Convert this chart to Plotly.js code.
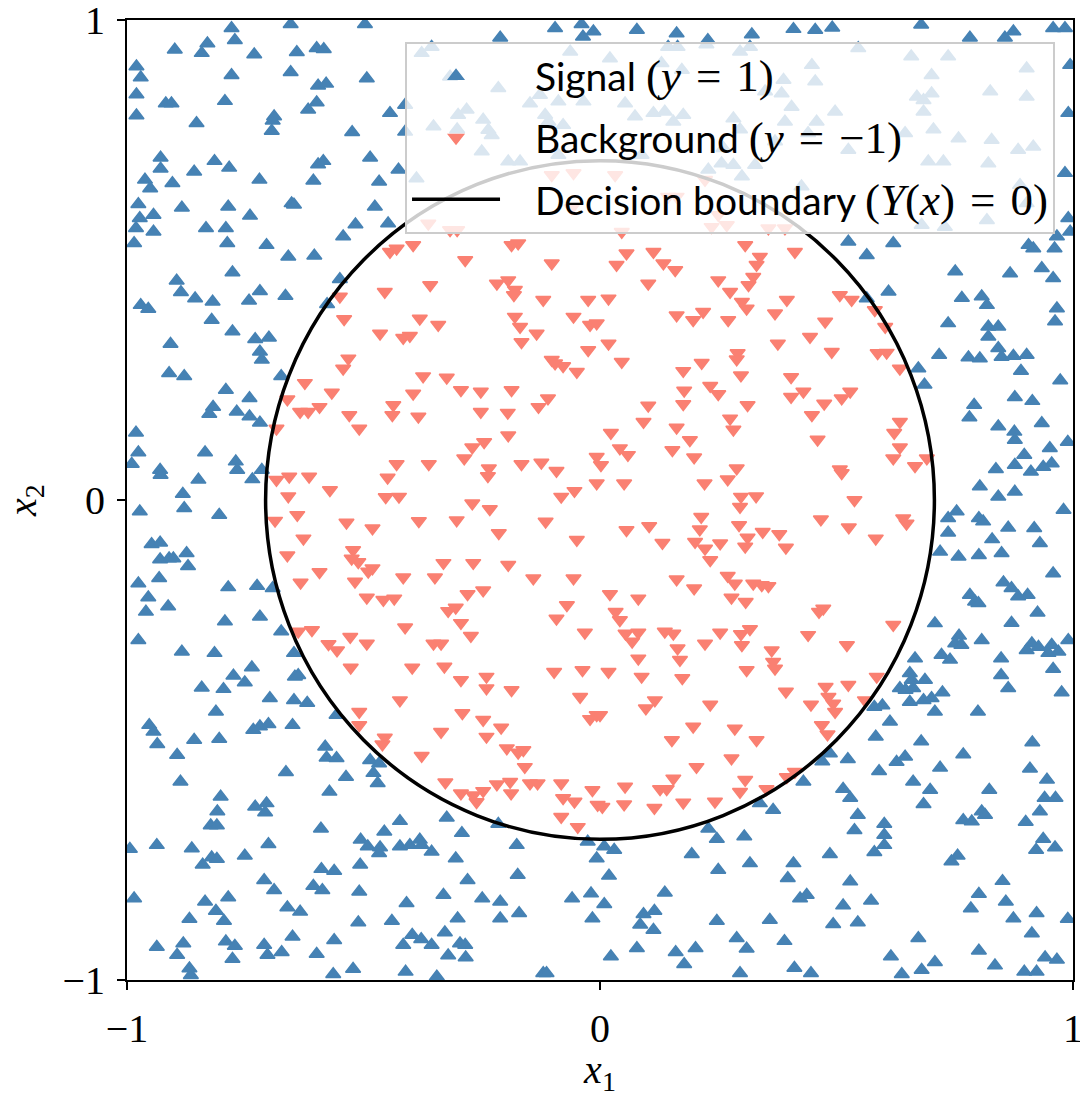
<!DOCTYPE html>
<html>
<head>
<meta charset="utf-8">
<script src="https://cdn.plot.ly/plotly-3.0.1.min.js"></script>
<style>html,body{margin:0;padding:0;background:#fff;}#chart{width:1080px;height:1097px;}</style>
</head>
<body>
<div id="chart"></div>
<script>
// ---- data, pairs of [x1, x2] ----
const signalPoints = [
[-0.779,0.983],[-0.772,0.958],[-0.830,0.951],[-0.842,0.931],[-0.899,0.938],[-0.731,0.928],[-0.641,0.933],[-0.599,0.941],[-0.584,0.939],[-0.654,0.991],[-0.980,0.903],[-0.971,0.880],[-0.980,0.845],[-0.980,0.801],[-0.918,0.826],[-0.906,0.826],[-0.793,0.831],[-0.779,0.885],[-0.654,0.891],[-0.596,0.863],[-0.579,0.867],[-0.599,0.828],[-0.617,0.813],[-0.689,0.799],[-0.692,0.790],[-0.694,0.769],[-0.853,0.785],[-0.524,0.766],[-0.929,0.713],[-0.929,0.690],[-0.962,0.667],[-0.951,0.649],[-0.904,0.660],[-0.858,0.684],[-0.815,0.706],[-0.784,0.692],[-0.720,0.667],[-0.596,0.699],[-0.585,0.706],[-0.606,0.665],[-0.652,0.618],[-0.647,0.615],[-0.976,0.616],[-0.973,0.587],[-0.981,0.566],[-0.944,0.594],[-0.944,0.559],[-0.985,0.535],[-0.884,0.609],[-0.833,0.566],[-0.786,0.611],[-0.791,0.566],[-0.788,0.535],[-0.740,0.592],[-0.705,0.531],[-0.659,0.507],[-0.604,0.509],[-0.543,0.549],[-0.517,0.574],[-0.777,0.474],[-0.895,0.457],[-0.886,0.433],[-0.856,0.420],[-0.819,0.413],[-0.821,0.375],[-0.971,0.406],[-0.955,0.398],[-0.742,0.415],[-0.719,0.435],[-0.665,0.425],[-0.550,0.460],[-0.577,0.408],[-0.777,0.351],[-0.729,0.335],[-0.700,0.338],
[-0.497,0.991],[-0.493,0.878],[-0.486,0.713],[-0.467,0.663],[-0.476,0.611],[-0.095,0.983],[-0.039,0.991],[-0.014,0.976],[-0.211,0.963],[-0.036,0.965],
[-0.356,0.944],[-0.377,0.931],[-0.317,0.882],[-0.412,0.823],[-0.444,0.806],[-0.412,0.767],[-0.352,0.778],[-0.300,0.802],[-0.282,0.813],[-0.302,0.772],[-0.247,0.792],[-0.236,0.771],[-0.229,0.760],[-0.250,0.726],[-0.426,0.688],[-0.388,0.670],[-0.215,0.858],[-0.194,0.705],[-0.169,0.705],[-0.127,0.844],[-0.088,0.830],[-0.148,0.826],[-0.035,0.830],[-0.063,0.934],[-0.116,0.802],[-0.109,0.788],[-0.078,0.781],[-0.088,0.719],[-0.448,0.576],
[0.078,0.979],[0.162,0.972],[0.228,0.958],[0.321,0.970],[0.409,0.981],[0.455,0.979],[0.491,0.984],
[0.144,0.944],[0.164,0.944],[0.225,0.949],[0.296,0.934],[0.317,0.944],[0.021,0.920],[0.130,0.910],[0.173,0.896],[0.388,0.875],[0.448,0.906],[0.455,0.872],[0.349,0.851],[0.384,0.847],[0.053,0.826],[0.074,0.799],[0.113,0.806],[0.137,0.809],[0.155,0.788],[0.176,0.802],[0.282,0.795],[0.296,0.772],[0.405,0.819],[0.391,0.788],[0.458,0.788],[0.497,0.809],[0.440,0.764],[0.261,0.733],[0.257,0.701],[0.282,0.698],[0.328,0.698],[0.300,0.674],[0.229,0.688],[0.088,0.719],[0.426,0.653],[0.370,0.747],
[0.679,0.990],[0.782,0.963],[0.856,0.963],[0.874,0.976],[0.958,0.983],[0.983,0.983],[0.994,0.906],[0.990,0.806],[0.983,0.681],[0.990,0.587],[0.994,0.559],[0.525,0.538],[0.620,0.535],[0.564,0.510],[0.906,0.531],[0.916,0.524],[0.966,0.549],[0.961,0.524],[0.751,0.476],[0.867,0.472],[0.934,0.483],[0.958,0.462],[0.610,0.434],[0.765,0.421],[0.807,0.424],[0.818,0.406],[0.736,0.368],[0.821,0.361],[0.842,0.361],[0.821,0.340],[0.966,0.399],[0.962,0.372],[0.564,0.420],
[0.546,0.941],[0.658,0.924],[0.736,0.924],[0.701,0.885],[0.902,0.899],[0.670,0.840],[0.684,0.833],[0.701,0.847],[0.684,0.809],[0.825,0.851],[0.902,0.840],[0.645,0.764],[0.705,0.772],[0.758,0.753],[0.828,0.750],[0.884,0.729],[0.916,0.736],[0.525,0.729],[0.694,0.705],[0.726,0.705],[0.821,0.701],[0.888,0.656],[0.902,0.618],[0.818,0.583],[0.680,0.573],[0.729,0.569],
[-0.908,0.325],[-0.719,0.309],[-0.715,0.292],[-0.911,0.264],[-0.879,0.258],[-0.791,0.229],[-0.741,0.212],[-0.818,0.194],[-0.826,0.179],[-0.768,0.184],[-0.741,0.174],[-0.719,0.161],[-0.674,0.258],[-0.981,0.140],[-0.976,0.099],[-0.990,0.075],[-0.835,0.099],[-0.930,0.0625],[-0.929,0.052],[-0.770,0.080],[-0.767,0.0625],[-0.715,0.0625],[-0.735,0.043],[-0.849,0.042],[-0.882,0.0125],[-0.879,-0.017],[-0.973,-0.024],[-0.805,-0.031],[-0.948,-0.092],[-0.930,-0.089],[-0.930,-0.124],[-0.911,-0.122],[-0.902,-0.122],[-0.874,-0.111],[-0.871,-0.138],[-0.976,-0.174],[-0.932,-0.163],[-0.955,-0.203],[-0.960,-0.233],[-0.913,-0.222],[-0.786,-0.182],[-0.725,-0.179],[-0.692,-0.184],[-0.793,-0.253],[-0.719,-0.243],[-0.674,-0.274],[-0.976,-0.292],[-0.884,-0.316],[-0.815,-0.319],[-0.647,-0.319],
[0.717,0.302],[0.673,0.274],[0.686,0.240],[0.779,0.297],[0.803,0.295],[0.842,0.316],[0.849,0.298],[0.874,0.300],[0.902,0.302],[0.890,0.269],[0.973,0.249],[0.877,0.214],[0.914,0.206],[0.791,0.198],[0.781,0.172],[0.842,0.153],[0.876,0.142],[0.877,0.125],[0.934,0.160],[0.989,0.121],[0.951,0.108],[0.955,0.076],[0.937,0.069],[0.897,0.094],[0.877,0.073],[0.911,0.059],[0.837,0.064],[0.803,0.028],[0.842,0.007],[0.877,0.017],[0.980,-0.021],[0.736,-0.038],[0.754,-0.024],[0.736,-0.068],[0.801,-0.038],[0.810,-0.045],[0.863,-0.058],[0.918,-0.059],[0.829,-0.082],[0.930,-0.090],[0.719,-0.108],[0.758,-0.118],[0.801,-0.115],[0.849,-0.111],[0.958,-0.153],[0.853,-0.172],[0.870,-0.184],[0.884,-0.201],[0.904,-0.198],[0.782,-0.198],[0.793,-0.212],[0.800,-0.215],[0.925,-0.235],[0.870,-0.256],[0.708,-0.257],[0.759,-0.283],[0.751,-0.299],[0.764,-0.302],[0.807,-0.292],[0.722,-0.323],[0.740,-0.333],[0.848,-0.330],[0.913,-0.299],[0.902,-0.313],[0.927,-0.306],[0.948,-0.319],[0.955,-0.302],[0.969,-0.316],[0.990,-0.292],[0.666,-0.330],
[-0.736,-0.349],[-0.775,-0.366],[-0.751,-0.380],[-0.842,-0.391],[-0.796,-0.394],[-0.645,-0.368],[-0.638,-0.365],[-0.698,-0.413],[-0.647,-0.417],[-0.619,-0.423],[-0.812,-0.441],[-0.953,-0.469],[-0.944,-0.483],[-0.936,-0.509],[-0.858,-0.500],[-0.805,-0.498],[-0.733,-0.479],[-0.719,-0.472],[-0.701,-0.467],[-0.650,-0.469],[-0.557,-0.448],[-0.894,-0.531],[-0.887,-0.587],[-0.581,-0.514],[-0.578,-0.537],[-0.557,-0.538],[-0.537,-0.577],[-0.664,-0.567],[-0.572,-0.608],[-0.802,-0.618],[-0.809,-0.649],[-0.823,-0.678],[-0.810,-0.678],[-0.729,-0.639],[-0.705,-0.632],[-0.708,-0.651],[-0.590,-0.685],[-0.994,-0.727],[-0.937,-0.719],[-0.863,-0.726],[-0.821,-0.745],[-0.810,-0.748],[-0.840,-0.760],[-0.751,-0.741],[-0.701,-0.717],[-0.506,-0.708],[-0.507,-0.760],[-0.509,-0.816],[-0.511,-0.880],[-0.589,-0.769],[-0.562,-0.773],[-0.606,-0.804],[-0.587,-0.813],[-0.710,-0.792],[-0.689,-0.813],[-0.985,-0.830],[-0.835,-0.837],[-0.786,-0.828],[-0.812,-0.856],[-0.795,-0.877],[-0.868,-0.873],[-0.661,-0.849],[-0.634,-0.858],[-0.650,-0.910],[-0.937,-0.931],[-0.881,-0.924],[-0.894,-0.948],[-0.791,-0.920],[-0.772,-0.929],[-0.777,-0.956],[-0.710,-0.927],[-0.703,-0.948],[-0.673,-0.942],[-0.599,-0.946],[-0.562,-0.917],[-0.868,-0.976],[-0.865,-0.990],[-0.564,-0.988],[-0.522,-0.977],
[-0.486,-0.542],[-0.467,-0.549],[-0.479,-0.569],[-0.470,-0.590],[-0.324,-0.662],[-0.215,-0.675],[-0.423,-0.669],[-0.456,-0.691],[-0.491,-0.722],[-0.465,-0.724],[-0.467,-0.736],[-0.423,-0.722],[-0.402,-0.719],[-0.381,-0.708],[-0.377,-0.719],[-0.356,-0.733],[-0.292,-0.694],[-0.305,-0.747],[-0.176,-0.719],[-0.174,-0.781],[-0.280,-0.792],[-0.331,-0.823],[-0.249,-0.830],[-0.211,-0.837],[-0.409,-0.840],[-0.440,-0.877],[-0.301,-0.872],[-0.211,-0.872],[-0.171,-0.861],[-0.059,-0.830],[-0.019,-0.820],[-0.016,-0.872],[-0.007,-0.747],[-0.026,-0.712],[-0.328,-0.901],[-0.397,-0.906],[-0.378,-0.915],[-0.416,-0.927],[-0.356,-0.927],[-0.296,-0.924],[-0.285,-0.927],[-0.321,-0.949],[-0.284,-0.953],[-0.411,-0.983],[-0.345,-0.993],[-0.120,-0.986],[-0.113,-0.986],
[0.486,-0.528],[0.470,-0.545],[0.430,-0.587],[0.338,-0.632],[0.366,-0.646],[0.229,-0.685],[0.247,-0.706],[0.305,-0.701],[0.009,-0.722],[0.030,-0.729],[0.194,-0.738],[0.317,-0.757],[0.250,-0.771],[0.409,-0.757],[0.397,-0.788],[0.486,-0.738],[0.019,-0.783],[0.137,-0.818],[0.423,-0.830],[0.437,-0.823],[0.009,-0.842],[0.092,-0.863],[0.115,-0.856],[0.085,-0.885],[0.113,-0.896],[0.247,-0.877],[0.359,-0.875],[0.493,-0.884],[0.289,-0.913],[0.310,-0.935],[0.390,-0.919],[0.078,-0.934],[0.023,-0.951],[0.160,-0.942],[0.178,-0.967],[0.202,-0.934],[0.411,-0.975],[0.446,-0.986],[0.296,-0.986],
[0.655,-0.361],[0.659,-0.375],[0.687,-0.375],[0.634,-0.392],[0.646,-0.396],[0.662,-0.392],[0.655,-0.421],[0.684,-0.417],[0.701,-0.413],[0.708,-0.441],[0.724,-0.401],[0.580,-0.431],[0.597,-0.428],[0.613,-0.462],[0.848,-0.365],[0.863,-0.392],[0.958,-0.352],[0.976,-0.401],[0.799,-0.441],[0.583,-0.493],[0.679,-0.503],[0.914,-0.505],[0.524,-0.540],[0.590,-0.565],[0.627,-0.546],[0.645,-0.535],[0.719,-0.558],[0.768,-0.530],[0.909,-0.560],[0.662,-0.587],[0.698,-0.604],[0.684,-0.634],[0.514,-0.602],[0.529,-0.621],[0.545,-0.656],[0.538,-0.688],[0.601,-0.675],[0.601,-0.698],[0.601,-0.719],[0.580,-0.734],[0.823,-0.604],[0.768,-0.667],[0.786,-0.670],[0.807,-0.649],[0.814,-0.656],[0.945,-0.583],[0.940,-0.621],[0.963,-0.621],[0.930,-0.649],[0.900,-0.671],[0.937,-0.706],[0.922,-0.729],[0.962,-0.724],[0.756,-0.741],[0.743,-0.753],[0.529,-0.795],[0.514,-0.845],[0.573,-0.835],[0.545,-0.880],[0.851,-0.794],[0.858,-0.837],[0.874,-0.872],[0.801,-0.821],[0.784,-0.851],[0.923,-0.861],[0.913,-0.903],[0.989,-0.873],[0.673,-0.913],[0.615,-0.951],[0.638,-0.988],[0.680,-0.979],[0.708,-0.963],[0.801,-0.939],[0.835,-0.970],[0.897,-0.983],[0.923,-0.983],[0.941,-0.953],[0.966,-0.958]
];

const backgroundPoints = [
[-0.550,0.424],[-0.541,0.377],
[-0.102,0.677],[-0.056,0.681],[-0.363,0.576],[-0.317,0.5625],[-0.302,0.5625],[-0.060,0.608],
[-0.444,0.517],[-0.430,0.524],[-0.395,0.531],[-0.285,0.500],[-0.187,0.531],[-0.173,0.535],[-0.102,0.493],[-0.455,0.434],[-0.359,0.448],[-0.218,0.451],[-0.194,0.458],[-0.180,0.438],[-0.182,0.427],[-0.120,0.417],[-0.025,0.417],[-0.381,0.378],[-0.342,0.365],[-0.465,0.347],[-0.416,0.338],[-0.402,0.342],[-0.180,0.382],[-0.169,0.361],[-0.134,0.347],[-0.056,0.382],[-0.021,0.365],[-0.007,0.368],
[0.032,0.677],[0.144,0.632],[0.162,0.632],[0.222,0.667],[0.250,0.594],[0.268,0.573],[0.236,0.569],[0.046,0.559],[0.356,0.566],[0.391,0.566],
[0.307,0.531],[0.056,0.514],[0.113,0.517],[0.134,0.493],[0.159,0.479],[0.035,0.490],[0.412,0.517],[0.338,0.507],[0.331,0.490],[0.324,0.465],[0.314,0.448],[0.250,0.458],[0.275,0.434],[0.102,0.451],[0.300,0.413],[0.310,0.399],[0.018,0.420],[0.162,0.385],[0.197,0.375],[0.218,0.392],[0.271,0.375],[0.395,0.417],[0.370,0.389],[0.476,0.372],[0.444,0.340],
[0.507,0.427],[0.532,0.417],[0.581,0.396],[0.603,0.361],
[-0.532,0.295],[-0.543,0.274],[-0.624,0.244],[-0.567,0.224],[-0.661,0.210],[-0.634,0.184],[-0.617,0.184],[-0.593,0.194],[-0.530,0.177],[-0.509,0.149],[-0.684,0.149],[-0.684,0.042],[-0.657,0.049],[-0.615,0.049],[-0.571,0.021],[-0.659,0.008],[-0.687,-0.043],[-0.640,-0.031],[-0.627,-0.080],[-0.536,-0.047],[-0.661,-0.115],[-0.522,-0.104],[-0.525,-0.122],[-0.511,-0.129],[-0.593,-0.150],[-0.633,-0.172],[-0.518,-0.170],[-0.638,-0.274],[-0.609,-0.271],[-0.574,-0.300],[-0.556,-0.313],[-0.528,-0.285],
[-0.166,0.329],[-0.025,0.3125],[-0.102,0.292],[-0.095,0.285],[-0.078,0.279],[-0.049,0.267],[-0.374,0.258],[-0.324,0.255],[-0.294,0.229],[-0.252,0.226],[-0.187,0.229],[-0.395,0.222],[-0.437,0.198],[-0.439,0.177],[-0.384,0.174],[-0.252,0.184],[-0.195,0.182],[-0.130,0.194],[-0.110,0.212],[-0.194,0.135],[-0.245,0.121],[-0.270,0.110],[-0.287,0.087],[-0.430,0.075],[-0.449,0.047],[-0.362,0.075],[-0.235,0.066],[-0.237,0.050],[-0.166,0.075],[-0.124,0.078],[-0.092,0.061],[-0.453,0.006],[-0.425,0.007],[-0.270,-0.007],[-0.233,-0.019],[-0.082,0.007],[-0.054,0.019],[-0.007,0.090],[-0.007,0.035],[-0.383,-0.044],[-0.303,-0.042],[-0.481,-0.059],[-0.214,-0.069],[-0.115,-0.045],[-0.049,-0.083],[-0.490,-0.149],[-0.481,-0.142],[-0.416,-0.161],[-0.349,-0.161],[-0.331,-0.131],[-0.268,-0.131],[-0.194,-0.135],[-0.141,-0.163],[-0.056,-0.163],[-0.493,-0.203],[-0.458,-0.208],[-0.435,-0.205],[-0.280,-0.196],[-0.247,-0.188],[-0.321,-0.231],[-0.305,-0.224],[-0.294,-0.256],[-0.273,-0.283],[-0.412,-0.265],[-0.493,-0.299],[-0.352,-0.299],[-0.336,-0.299],[-0.070,-0.219],[-0.092,-0.247],[-0.032,-0.276],
[0.018,0.326],[0.376,0.326],[0.046,0.288],[0.215,0.286],[0.176,0.269],[0.291,0.306],[0.289,0.293],[0.490,0.309],[0.298,0.260],[0.404,0.256],[0.404,0.215],[0.430,0.226],[0.233,0.238],[0.250,0.221],[0.178,0.228],[0.176,0.200],[0.102,0.197],[0.312,0.198],[0.474,0.201],[0.448,0.177],[0.275,0.170],[0.282,0.147],[0.092,0.163],[0.162,0.151],[0.023,0.140],[0.190,0.125],[0.153,0.104],[0.199,0.089],[0.042,0.108],[0.059,0.094],[0.002,0.073],[0.051,0.035],[0.221,0.035],[0.270,0.043],[0.289,0.066],[0.460,0.126],[0.298,0.007],[0.296,-0.014],[0.330,0.008],[0.467,-0.040],[0.214,-0.035],[0.211,-0.061],[0.056,-0.0625],[0.104,-0.054],[0.132,-0.089],[0.201,-0.087],[0.222,-0.101],[0.233,-0.125],[0.254,-0.090],[0.294,-0.052],[0.312,-0.078],[0.307,-0.097],[0.344,-0.066],[0.379,-0.071],[0.393,-0.099],[0.162,-0.165],[0.199,-0.184],[0.270,-0.158],[0.285,-0.174],[0.324,-0.174],[0.342,-0.177],[0.356,-0.179],[0.278,-0.203],[0.308,-0.212],[0.021,-0.196],[0.081,-0.205],[0.033,-0.233],[0.042,-0.250],[0.054,-0.278],[0.068,-0.295],[0.081,-0.276],[0.137,-0.274],[0.155,-0.278],[0.164,-0.309],[0.169,-0.333],[0.081,-0.330],[0.222,-0.299],[0.254,-0.276],[0.298,-0.279],[0.317,-0.269],[0.300,-0.302],[0.363,-0.313],[0.366,-0.337],[0.440,-0.281],[0.472,-0.226],[0.463,-0.233],
[0.587,0.306],[0.606,0.307],[0.634,0.274],[0.529,0.226],[0.511,0.212],[0.634,0.163],[0.622,0.140],[0.634,0.110],[0.620,0.087],[0.666,0.071],[0.691,0.087],[0.507,0.064],[0.511,0.056],[0.538,0.000],[0.641,-0.038],[0.648,-0.049],[0.526,-0.057],[0.583,-0.080],[0.620,-0.260],[0.522,-0.302],
[-0.527,-0.349],[-0.509,-0.441],[-0.509,-0.469],
[-0.397,-0.349],[-0.329,-0.347],[-0.097,-0.358],[-0.037,-0.354],[-0.294,-0.375],[-0.240,-0.368],[-0.240,-0.392],[-0.187,-0.396],[-0.423,-0.417],[-0.042,-0.410],[-0.291,-0.444],[-0.247,-0.458],[-0.209,-0.474],[-0.240,-0.493],[-0.336,-0.483],[-0.455,-0.495],[-0.460,-0.509],[-0.377,-0.533],[-0.197,-0.517],[-0.173,-0.526],[-0.162,-0.521],[-0.159,-0.556],[-0.021,-0.456],[-0.007,-0.448],[-0.327,-0.588],[-0.294,-0.611],[-0.268,-0.615],[-0.261,-0.629],[-0.247,-0.606],[-0.218,-0.592],[-0.190,-0.587],[-0.188,-0.611],[-0.148,-0.590],[-0.132,-0.590],[-0.082,-0.590],[-0.078,-0.621],[-0.054,-0.628],[-0.082,-0.660],[-0.047,-0.681],[-0.016,-0.604],[-0.005,-0.635],
[0.018,-0.358],[0.310,-0.354],[0.088,-0.368],[0.174,-0.371],[0.370,-0.351],[0.393,-0.399],[0.477,-0.389],[0.483,-0.410],[0.493,-0.424],[0.497,-0.441],[0.446,-0.426],[0.233,-0.426],[0.116,-0.417],[0.097,-0.434],[0.000,-0.448],[0.197,-0.472],[0.285,-0.476],[0.331,-0.500],[0.469,-0.469],[0.481,-0.488],[0.152,-0.500],[0.278,-0.538],[0.204,-0.556],[0.053,-0.597],[0.005,-0.639],[0.051,-0.634],[0.115,-0.641],[0.127,-0.602],[0.141,-0.602],[0.155,-0.580],[0.176,-0.630],[0.243,-0.628],[0.307,-0.583],[0.296,-0.608],[0.352,-0.602],[0.395,-0.577],[0.412,-0.566],
[0.525,-0.385],[0.585,-0.368],[0.560,-0.417]
];

const boundaryRadius = 0.707;           // decision boundary Y(x)=0 : x1^2 + x2^2 = r^2
const tickValues = [-1, 0, 1];
const tickLabels = ['\u22121', '0', '1'];

const GAP = '\u00a0\u00a0\u00a0';
const EQ = '\u2004=\u2004';
const MATH = 'font-family:Liberation Serif;font-size:45px';
const seriesNames = [
  GAP + 'Signal <span style="' + MATH + '">(<i>y</i>' + EQ + '1)</span>',
  GAP + 'Background <span style="' + MATH + '">(<i>y</i>' + EQ + '\u22121)</span>',
  GAP + 'Decision boundary <span style="' + MATH + '">(<i>Y</i>(<i>x</i>)' + EQ + '0)</span>'
];

const BLUE = '#4682b4', RED = '#fa8072';
const SERIF = 'Liberation Serif, DejaVu Serif, serif';
const SANS = 'Lato, Open Sans, sans-serif';

const traces = [
  {
    type: 'scatter', mode: 'markers', name: seriesNames[0], legendgroup: 'a',
    x: signalPoints.map(p => p[0]), y: signalPoints.map(p => p[1]),
    marker: {symbol: 'triangle-up', size: 13, color: BLUE, line: {color: BLUE, width: 1.5}},
    hoverinfo: 'x+y'
  },
  {
    type: 'scatter', mode: 'markers', name: seriesNames[1], legendgroup: 'b',
    x: backgroundPoints.map(p => p[0]), y: backgroundPoints.map(p => p[1]),
    marker: {symbol: 'triangle-down', size: 13, color: RED, line: {color: RED, width: 1.5}},
    hoverinfo: 'x+y'
  },
  {
    type: 'scatter', mode: 'lines', name: seriesNames[2], legendgroup: 'c',
    x: [null], y: [null], line: {color: '#000', width: 3.5}
  }
];

const axisCommon = {
  range: [-1, 1], tickvals: tickValues, ticktext: tickLabels,
  ticks: 'outside', ticklen: 8, tickwidth: 2, tickcolor: '#000',
  showline: true, linecolor: '#000', linewidth: 2, mirror: true,
  showgrid: false, zeroline: false,
  tickfont: {family: SERIF, size: 40, color: '#000'},
  ticklabelstandoff: 4, ticklabeloverflow: 'allow', fixedrange: true
};

const layout = {
  width: 1080, height: 1097,
  margin: {l: 127, r: 7, t: 20, b: 117},
  paper_bgcolor: '#fff', plot_bgcolor: '#fff',
  font: {family: SANS, color: '#000'},
  showlegend: true,
  xaxis: Object.assign({}, axisCommon, {
    title: {text: '<i>x</i><sub>1</sub>', font: {family: SERIF, size: 40, color: '#000'}, standoff: 16}
  }),
  yaxis: Object.assign({}, axisCommon, {
    title: {text: '<i>x</i><sub>2</sub>', font: {family: SERIF, size: 40, color: '#000'}, standoff: 40}
  }),
  shapes: [{
    type: 'circle', xref: 'x', yref: 'y', layer: 'above',
    x0: -boundaryRadius, x1: boundaryRadius, y0: -boundaryRadius, y1: boundaryRadius,
    line: {color: '#000', width: 3.5}
  }],
  legend: {
    x: 0.981, y: 0.977, xanchor: 'right', yanchor: 'top',
    bgcolor: 'rgba(255,255,255,0.8)', bordercolor: '#cccccc', borderwidth: 2,
    font: {family: SANS, size: 39, color: '#000'},
    traceorder: 'grouped', tracegroupgap: 8, itemwidth: 88
  }
};

Plotly.newPlot('chart', traces, layout, {displayModeBar: false, staticPlot: true});
</script>
</body>
</html>
